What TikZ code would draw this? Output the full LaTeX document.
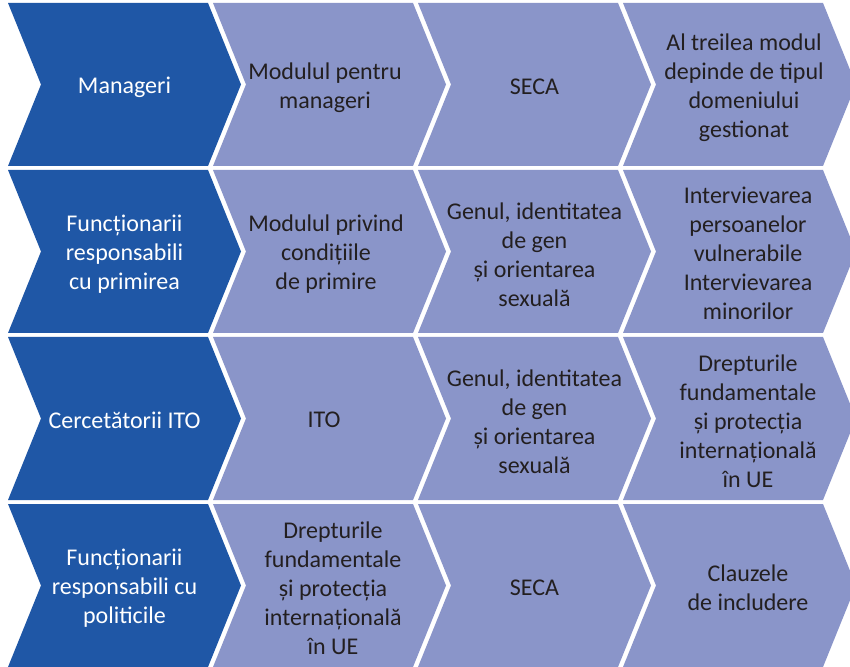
\documentclass[tikz,border=0pt]{standalone}
\usepackage{fontspec}
\setmainfont{Carlito}
\definecolor{rolblue}{HTML}{1F57A6}
\definecolor{modblue}{HTML}{8A95C9}
\definecolor{txtdark}{HTML}{231F20}
\tikzset{
  rolechev/.style={fill=rolblue},
  modchev/.style={fill=modblue},
  roletxt/.style={text=white, align=center, font=\fontsize{12}{14.5}\selectfont},
  modtxt/.style={text=txtdark, align=center, font=\fontsize{12}{14.5}\selectfont}
}
\begin{document}
\begin{tikzpicture}[x=0.5pt,y=-0.5pt]
\useasboundingbox (0,0) rectangle (850,667);
\clip (0,0) rectangle (850,667);
\fill[white] (0,0) rectangle (850,667);

% Manageri
\fill[rolechev] (8,3) -- ++(200,0) -- ++(33,81.5) -- ++(-33,81.5) -- ++(-200,0) -- ++(33,-81.5) -- cycle;
\fill[modchev] (213,3) -- ++(200,0) -- ++(33,81.5) -- ++(-33,81.5) -- ++(-200,0) -- ++(33,-81.5) -- cycle;
\fill[modchev] (418,3) -- ++(200,0) -- ++(33,81.5) -- ++(-33,81.5) -- ++(-200,0) -- ++(33,-81.5) -- cycle;
\fill[modchev] (623,3) -- ++(200,0) -- ++(33,81.5) -- ++(-33,81.5) -- ++(-200,0) -- ++(33,-81.5) -- cycle;
\node[roletxt] (mgr) at (124.5,87) {Manageri};
\node[modtxt] (mgrmod) at (325,88) {Modulul pentru\\manageri};
\node[modtxt] (mgrseca) at (534.5,87) {SECA};
\node[modtxt] (mgrthird) at (744,88) {Al treilea modul\\depinde de tipul\\domeniului\\gestionat};

% primire
\fill[rolechev] (8,170) -- ++(200,0) -- ++(33,81.5) -- ++(-33,81.5) -- ++(-200,0) -- ++(33,-81.5) -- cycle;
\fill[modchev] (213,170) -- ++(200,0) -- ++(33,81.5) -- ++(-33,81.5) -- ++(-200,0) -- ++(33,-81.5) -- cycle;
\fill[modchev] (418,170) -- ++(200,0) -- ++(33,81.5) -- ++(-33,81.5) -- ++(-200,0) -- ++(33,-81.5) -- cycle;
\fill[modchev] (623,170) -- ++(200,0) -- ++(33,81.5) -- ++(-33,81.5) -- ++(-200,0) -- ++(33,-81.5) -- cycle;
\node[roletxt] (rec) at (124.5,254) {Funcționarii\\responsabili\\cu primirea};
\node[modtxt] (recmod) at (326,254) {Modulul privind\\condițiile\\de primire};
\node[modtxt] (recgen) at (534.5,255) {Genul, identitatea\\de gen\\și orientarea\\sexuală};
\node[modtxt] (recint) at (748,253) {Intervievarea\\persoanelor\\vulnerabile\\Intervievarea\\minorilor};

% ITO
\fill[rolechev] (8,337) -- ++(200,0) -- ++(33,81.5) -- ++(-33,81.5) -- ++(-200,0) -- ++(33,-81.5) -- cycle;
\fill[modchev] (213,337) -- ++(200,0) -- ++(33,81.5) -- ++(-33,81.5) -- ++(-200,0) -- ++(33,-81.5) -- cycle;
\fill[modchev] (418,337) -- ++(200,0) -- ++(33,81.5) -- ++(-33,81.5) -- ++(-200,0) -- ++(33,-81.5) -- cycle;
\fill[modchev] (623,337) -- ++(200,0) -- ++(33,81.5) -- ++(-33,81.5) -- ++(-200,0) -- ++(33,-81.5) -- cycle;
\node[roletxt] (ito) at (124.5,420) {Cercetătorii ITO};
\node[modtxt] (itomod) at (324,420) {ITO};
\node[modtxt] (itogen) at (534.5,422) {Genul, identitatea\\de gen\\și orientarea\\sexuală};
\node[modtxt] (itodrept) at (748,421) {Drepturile\\fundamentale\\și protecția\\internațională\\în UE};

% politici
\fill[rolechev] (8,504) -- ++(200,0) -- ++(33,81.5) -- ++(-33,81.5) -- ++(-200,0) -- ++(33,-81.5) -- cycle;
\fill[modchev] (213,504) -- ++(200,0) -- ++(33,81.5) -- ++(-33,81.5) -- ++(-200,0) -- ++(33,-81.5) -- cycle;
\fill[modchev] (418,504) -- ++(200,0) -- ++(33,81.5) -- ++(-33,81.5) -- ++(-200,0) -- ++(33,-81.5) -- cycle;
\fill[modchev] (623,504) -- ++(200,0) -- ++(33,81.5) -- ++(-33,81.5) -- ++(-200,0) -- ++(33,-81.5) -- cycle;
\node[roletxt] (pol) at (124.5,588) {Funcționarii\\responsabili cu\\politicile};
\node[modtxt] (poldrept) at (333,588) {Drepturile\\fundamentale\\și protecția\\internațională\\în UE};
\node[modtxt] (polseca) at (534.5,588) {SECA};
\node[modtxt] (polclauze) at (748,588) {Clauzele\\de includere};
\end{tikzpicture}
\end{document}
